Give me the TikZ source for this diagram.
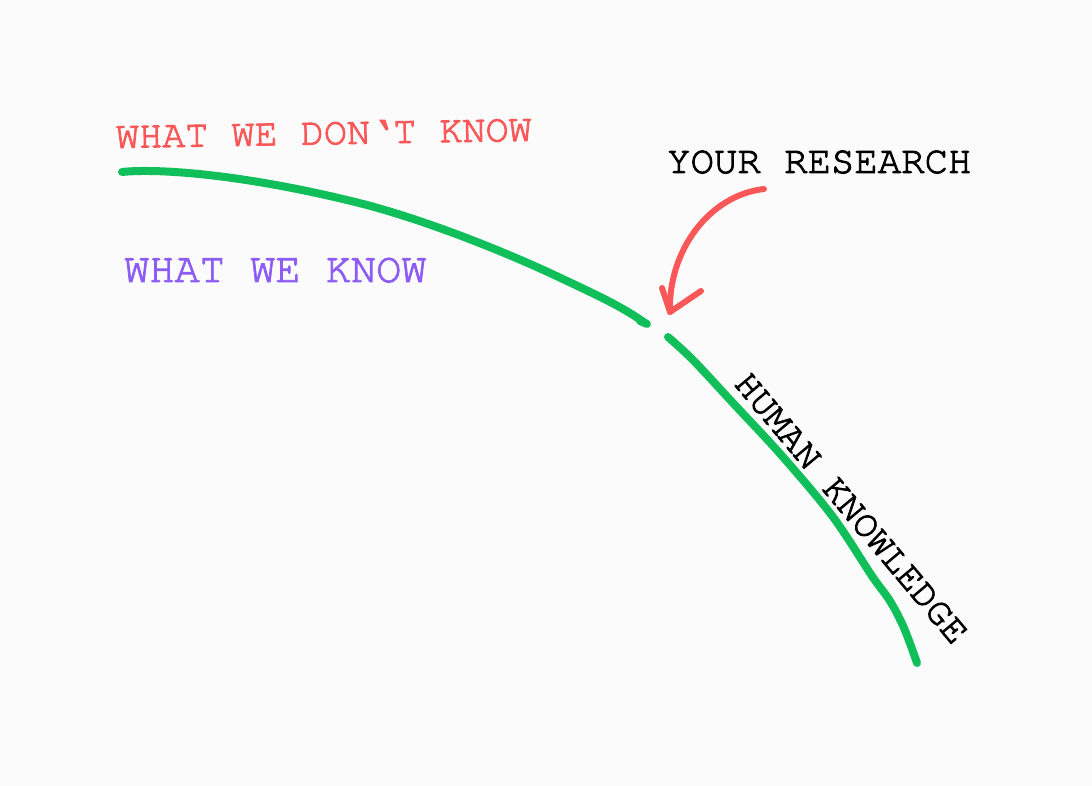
\documentclass[tikz,border=0pt]{standalone}
\usepackage[T1]{fontenc}
\usepackage{courier}
\newcommand\heavytext[1]{\special{pdf:literal direct 2 Tr 0.9 w}#1\special{pdf:literal direct 0 Tr}}
\definecolor{bgc}{RGB}{251,251,251}
\definecolor{kgreen}{RGB}{16,190,90}
\definecolor{kred}{RGB}{250,88,88}
\definecolor{kpurple}{RGB}{140,92,245}
\tikzset{
  knowline/.style={draw=kgreen, line width=8pt, line cap=round, line join=round},
  arrowline/.style={draw=kred, line width=6pt, line cap=round, line join=round},
  lbl/.style={inner sep=0pt, anchor=base west, font=\ttfamily},
}
\begin{document}
\begin{tikzpicture}[x=1pt,y=-1pt]
\fill[bgc] (0,0) rectangle (1092,786);
\useasboundingbox (0,0) rectangle (1092,786);
% labels
\node[lbl, text=kred, font=\ttfamily\fontsize{38.5}{40}\selectfont, rotate=1] (unknown) at (116,148) {\heavytext{WHAT WE DON\textquoteleft T KNOW}};
\node[lbl, text=kpurple, font=\ttfamily\fontsize{42}{44}\selectfont] (known) at (124,282) {\heavytext{WHAT WE KNOW}};
\node[lbl, text=black, font=\ttfamily\fontsize{39}{41}\selectfont] (research) at (667,173) {\heavytext{YOUR RESEARCH}};
\node[lbl, text=black, font=\ttfamily\fontsize{38}{40}\selectfont, rotate=-50] (human) at (733,384) {\heavytext{HUMAN KNOWLEDGE}};
% knowledge frontier
\coordinate (a0) at (122,172);
\coordinate (a1) at (367,205);
\coordinate (a2) at (550,273);
\coordinate (a3) at (645,323);
\draw[knowline] (a0) .. controls (160,168) and (250,175) .. (a1)
  .. controls (430,222) and (500,250) .. (a2)
  .. controls (590,292) and (620,305) .. (a3);
\draw[knowline] (640,321) -- (647,324);
\draw[knowline] plot[smooth, tension=0.55] coordinates {(668,337) (693,360) (733,403) (783,457) (833,517) (872,576) (890,601) (904,628) (917,663)};
% arrow
\coordinate (r0) at (764,189);
\coordinate (tip) at (670,312);
\draw[arrowline] (r0) .. controls (710,195) and (668,250) .. (tip);
\draw[arrowline] (662,288) -- (tip) -- (701,291);
\end{tikzpicture}
\end{document}
